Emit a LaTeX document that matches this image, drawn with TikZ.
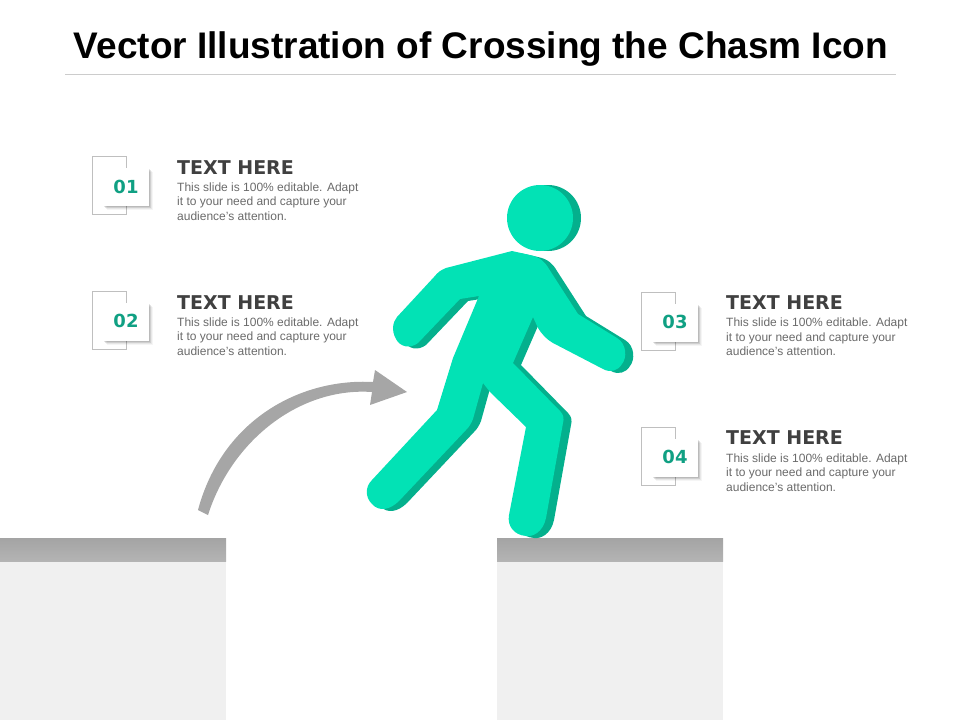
\documentclass[tikz,border=0pt]{standalone}
\usepackage{fontspec}
\setmainfont{Liberation Sans}
\newfontfamily\numfont{DejaVu Sans}
\usepackage{xcolor}
\usepackage{tikz}
\usetikzlibrary{shadows}

\definecolor{walkerlight}{HTML}{02E2B5}
\definecolor{walkerdark}{HTML}{04B08D}
\definecolor{numgreen}{HTML}{10A083}
\definecolor{headgray}{HTML}{404040}
\definecolor{bodygray}{HTML}{6A6A6A}
\definecolor{arrowgray}{HTML}{A6A6A6}
\definecolor{bartop}{HTML}{A4A4A4}
\definecolor{barbottom}{HTML}{B4B4B4}
\definecolor{groundgray}{HTML}{F0F0F0}

\newcommand{\walkerpath}{
    (512,251) -- (530,255) .. controls (540,257) and (545,262) .. (549,269)
    -- (578,314) -- (617,338) .. controls (627,344) and (627,358) .. (622,364)
    .. controls (618,371) and (610,373) .. (603,369) -- (553,343)
    .. controls (546,339) and (541,333) .. (538,328) -- (533,317) -- (513,363)
    -- (560,411) .. controls (564,415) and (564,419) .. (563,423)
    -- (546,518) .. controls (543,532) and (533,537) .. (526,536)
    .. controls (514,535) and (507,526) .. (509,515) -- (526,427) -- (490,392)
    -- (483,383) -- (473,419) .. controls (471,424) and (469,427) .. (466,430)
    -- (399,501) .. controls (390,510) and (379,512) .. (372,504)
    .. controls (365,497) and (365,487) .. (372,480) -- (437,410) -- (453,358)
    -- (479,296) -- (460,299) -- (418,343) .. controls (410,349) and (400,347) .. (396,339)
    .. controls (391,330) and (393,322) .. (397,317) -- (434,277)
    .. controls (438,272) and (441,270) .. (446,268) -- cycle}

\tikzset{
    numbox/.style={draw=none, fill=white, minimum width=46pt, minimum height=38pt,
        general shadow={shadow xshift=4pt, shadow yshift=-4pt, fill=black, opacity=0.04},
        general shadow={shadow xshift=3pt, shadow yshift=-3pt, fill=black, opacity=0.06},
        general shadow={shadow xshift=2pt, shadow yshift=-2pt, fill=black, opacity=0.10},
        general shadow={shadow xshift=1pt, shadow yshift=-1pt, fill=black, opacity=0.10}},
    outlinebox/.style={draw=black!25, line width=0.6pt, fill=white, minimum width=34pt, minimum height=58pt},
    numtext/.style={font=\numfont\bfseries\fontsize{18}{18}\selectfont, text=numgreen},
    headtext/.style={anchor=west, inner sep=0pt, font=\numfont\bfseries\fontsize{19}{19}\selectfont, text=headgray},
    bodytext/.style={anchor=north west, inner sep=0pt, align=left, text=bodygray,
        font=\fontsize{12}{14.5}\selectfont},
    bargray/.style={top color=bartop, bottom color=barbottom, draw=none},
}

\begin{document}
\begin{tikzpicture}[x=1pt, y=-1pt]

        \useasboundingbox (0,0) rectangle (960,720);

        % ---------- Title ----------
        \node[font=\bfseries\fontsize{37}{37}\selectfont, text=black] (title) at (481,49.5)
            {Vector Illustration of Crossing the Chasm Icon};
        \draw[black!20, line width=0.7pt] (65,74.5) -- (896,74.5);

        % ---------- Ground ----------
        \fill[groundgray] (0,561) rectangle (226,720);
        \shade[bargray] (0,538) rectangle (226,561.5);
        \fill[groundgray] (497,561) rectangle (723,720);
        \shade[bargray] (497,538) rectangle (723,561.5);

        % ---------- Curved arrow ----------
        \fill[arrowgray] (198,510) .. controls (222,420) and (300,378) .. (373,382)
            -- (375,370) -- (407,392) -- (370,405) -- (372,392)
            .. controls (300,387) and (232,440) .. (208,515) -- cycle;

        % ---------- Walker ----------
        \fill[walkerdark] (548,218) circle (33);
        \fill[walkerlight] (540,218) circle (33);
        \fill[walkerdark, xshift=8pt, yshift=-2pt] \walkerpath;
        \fill[walkerlight] \walkerpath;

        % ---------- Block 01 ----------
        \node[outlinebox] (frame1) at (109,185) {};
        \node[numbox] (box1) at (126,187) {};
        \node[numtext] (num1) at (126,187) {01};
        \node[headtext] (head1) at (177,168) {TEXT HERE};
        \node[bodytext] (body1) at (177,182.5) {This slide is 100\% editable. Adapt\\it to your need and capture your\\audience’s attention.};

        % ---------- Block 02 ----------
        \node[outlinebox] (frame2) at (109,320) {};
        \node[numbox] (box2) at (126,322) {};
        \node[numtext] (num2) at (126,321) {02};
        \node[headtext] (head2) at (177,303) {TEXT HERE};
        \node[bodytext] (body2) at (177,317.5) {This slide is 100\% editable. Adapt\\it to your need and capture your\\audience’s attention.};

        % ---------- Block 03 ----------
        \node[outlinebox] (frame3) at (658,321) {};
        \node[numbox] (box3) at (675,323) {};
        \node[numtext] (num3) at (675,322) {03};
        \node[headtext] (head3) at (726,303) {TEXT HERE};
        \node[bodytext] (body3) at (726,318) {This slide is 100\% editable. Adapt\\it to your need and capture your\\audience’s attention.};

        % ---------- Block 04 ----------
        \node[outlinebox] (frame4) at (658,456) {};
        \node[numbox] (box4) at (675,458) {};
        \node[numtext] (num4) at (675,457) {04};
        \node[headtext] (head4) at (726,438) {TEXT HERE};
        \node[bodytext] (body4) at (726,453.5) {This slide is 100\% editable. Adapt\\it to your need and capture your\\audience’s attention.};

\end{tikzpicture}
\end{document}
